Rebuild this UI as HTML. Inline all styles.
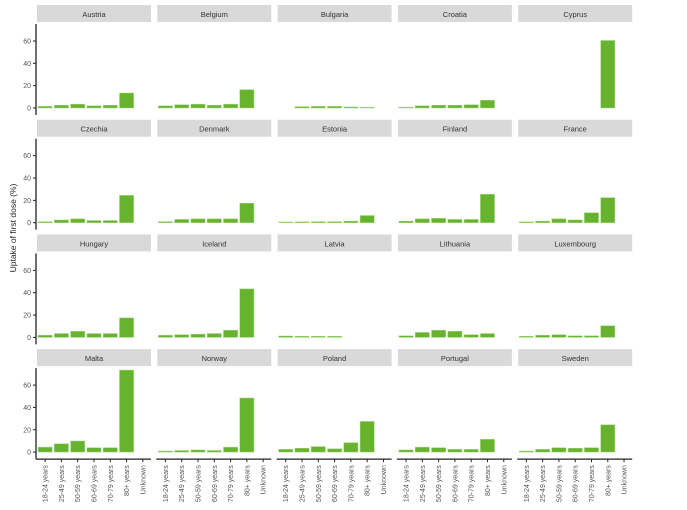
<!DOCTYPE html>
<html><head><meta charset="utf-8"><style>
body{margin:0;background:#fff;width:687px;height:505px;overflow:hidden;font-family:"Liberation Sans",sans-serif}
</style></head><body>
<svg id="chart" width="687" height="505" xmlns="http://www.w3.org/2000/svg"></svg>
<script>
const countries=["Austria","Belgium","Bulgaria","Croatia","Cyprus","Czechia","Denmark","Estonia","Finland","France","Hungary","Iceland","Latvia","Lithuania","Luxembourg","Malta","Norway","Poland","Portugal","Sweden"];
const categories=["18-24 years","25-49 years","50-59 years","60-69 years","70-79 years","80+ years","Unknown"];
const vAustria=[1,2,3,1.5,2,13,0];
const vBelgium=[1.5,2.5,3,2,3,16,0];
const vBulgaria=[0,0.8,1,1,0.5,0.3,0];
const vCroatia=[0.3,1.5,2,2,2.5,6.5,0];
const vCyprus=[0,0,0,0,0,60,0];
const vCzechia=[0.5,2,3,1.5,1.5,24,0];
const vDenmark=[0.5,2.5,3,3,3,17,0];
const vEstonia=[0.2,0.3,0.5,0.5,1,6,0];
const vFinland=[1,3,3.5,2.5,2.5,25,0];
const vFrance=[0.3,1,3,2,8.5,22,0];
const vHungary=[1.5,3,5,3,3,17,0];
const vIceland=[1.5,2,2.5,3,6,43,0];
const vLatvia=[0.8,0.5,0.5,0.5,0,0,0];
const vLithuania=[1,4,6,5,2,3,0];
const vLuxembourg=[0.5,1.5,2,1,1,10,0];
const vMalta=[4,7,9.5,3.5,3.5,73,0];
const vNorway=[0.5,1,1.5,1,4,48,0];
const vPoland=[2,3,4.5,2.5,8,27,0];
const vPortugal=[1.5,4,3.5,2,2,11,0];
const vSweden=[0.5,2,3.5,3,3.5,24,0];
const series=[vAustria,vBelgium,vBulgaria,vCroatia,vCyprus,vCzechia,vDenmark,vEstonia,vFinland,vFrance,vHungary,vIceland,vLatvia,vLithuania,vLuxembourg,vMalta,vNorway,vPoland,vPortugal,vSweden];
const yTicks=[0,20,40,60];

const NS="http://www.w3.org/2000/svg";
const svg=document.getElementById('chart');
function mk(tag,attrs,parent){const e=document.createElementNS(NS,tag);for(const k in attrs)e.setAttribute(k,attrs[k]);(parent||svg).appendChild(e);return e;}
const colX0=37,colStep=120.3,pw=114,rowY0=5,rowStep=114.7,stripH=17;
const zeroOff=103,pxPerUnit=1.117;
function y(v,row){return rowY0+row*rowStep+zeroOff-v*pxPerUnit;}
function x(i,col){return colX0+col*colStep+pw*(i+0.5)/categories.length;}
const bw=pw/categories.length*0.87;

countries.forEach((c,k)=>{
  const col=k%5,row=Math.floor(k/5);
  const px=colX0+col*colStep,py=rowY0+row*rowStep;
  const g=mk('g',{});
  
  
  const s=mk('rect',{x:px,y:py,width:pw,height:stripH,fill:'#d9d9d9'},g);
  
  
  const t=mk('text',{x:px+pw/2,y:py+12,'text-anchor':'middle','font-size':'7.5',fill:'#333'},g);
  t.textContent=c;
  
  
  series[k].forEach((v,i)=>{
    if(v<=0) return;
    const y0=y(0,row),y1=y(v,row);
    const b=mk('rect',{x:x(i,col)-bw/2,y:Math.min(y0,y1)-0.5,width:bw,height:Math.abs(y0-y1)+0.5,fill:'#67b32e',stroke:'#a6d686','stroke-width':0.5},g);
    
    
  });
  if(col===0){
    const a=mk('line',{x1:px-1,x2:px-1,y1:py+stripH+2,y2:py+stripH+93,stroke:'#222','stroke-width':1.3});
    
    
    yTicks.forEach(tv=>{
      const yy=y(tv,row);
      mk('line',{x1:px-4,x2:px-1,y1:yy,y2:yy,stroke:'#222','stroke-width':1});
      const tt=mk('text',{x:px-6,y:yy+2.5,'text-anchor':'end','font-size':'7',fill:'#555'});
      tt.textContent=tv;
      
      
    });
  }
  if(row===3){
    const ay=py+stripH+93;
    const a=mk('line',{x1:px-1,x2:px+pw,y1:ay,y2:ay,stroke:'#222','stroke-width':1.3});
    
    
    categories.forEach((cat,i)=>{
      const xx=x(i,col);
      mk('line',{x1:xx,x2:xx,y1:ay,y2:ay+3,stroke:'#222','stroke-width':1});
      const tt=mk('text',{x:xx+2.5,y:ay+6,'text-anchor':'end','font-size':'7',fill:'#555',transform:`rotate(-90 ${xx+2.5} ${ay+6})`});
      tt.textContent=cat;
      
      
    });
  }
});
const yl=mk('text',{x:16,y:228,'text-anchor':'middle','font-size':'8.5',fill:'#222',transform:'rotate(-90 16 228)'});
yl.textContent='Uptake of first dose (%)';


</script>
</body></html>
